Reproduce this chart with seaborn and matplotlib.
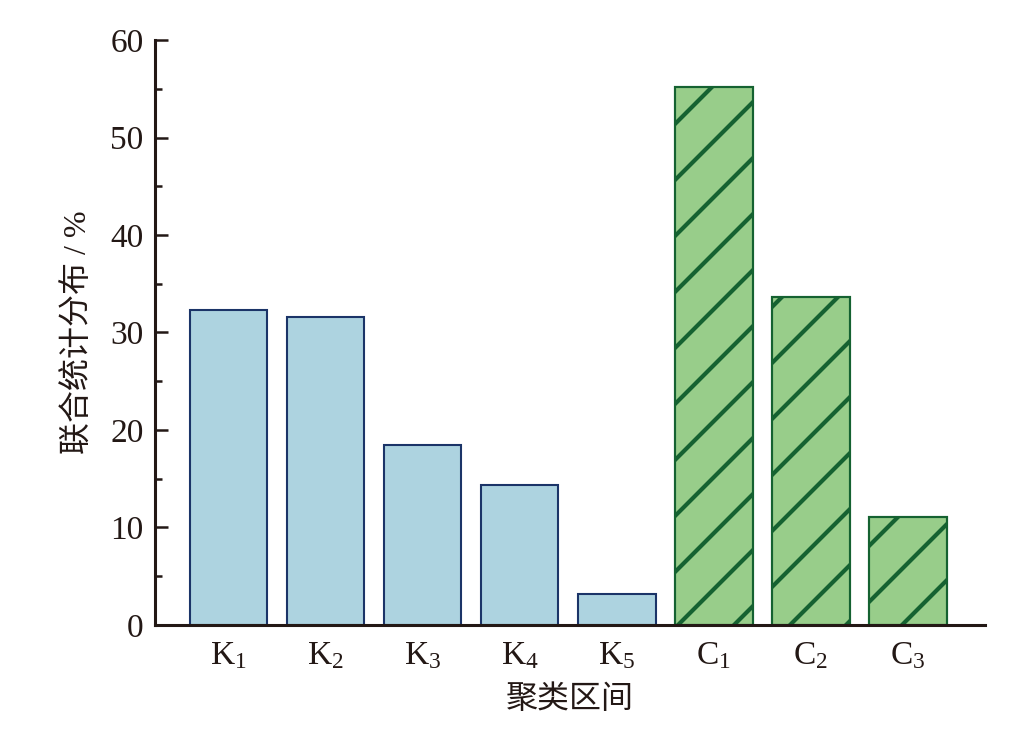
import numpy as np
import seaborn as sns
import matplotlib.pyplot as plt
import pandas as pd
from matplotlib.lines import Line2D
from matplotlib.patches import Rectangle
from matplotlib.transforms import IdentityTransform

# data
labels = ['K$_1$', 'K$_2$', 'K$_3$', 'K$_4$', 'K$_5$', 'C$_1$', 'C$_2$', 'C$_3$']
values = [32.3, 31.6, 18.5, 14.4, 3.2, 55.2, 33.6, 11.1]
groups = ['K', 'K', 'K', 'K', 'K', 'C', 'C', 'C']

fill = {'K': '#ADD3E0', 'C': '#98CD8A'}
edge = {'K': '#1B3468', 'C': '#156231'}
ink = '#231815'

sns.set_style('ticks')
plt.rcParams['font.family'] = ['Liberation Serif', 'Noto Sans CJK SC']
plt.rcParams['mathtext.fontset'] = 'custom'
plt.rcParams['mathtext.rm'] = 'Liberation Serif'
plt.rcParams['mathtext.it'] = 'Liberation Serif'

df = pd.DataFrame({'label': labels, 'value': values, 'group': groups})

fig = plt.figure(figsize=(10.31, 7.43), dpi=100)
ax = fig.add_axes([0.150, 0.159, 0.805, 0.787])
sns.barplot(data=df, x='label', y='value', hue='group', palette=fill,
            dodge=False, legend=False, saturation=1, width=0.8, ax=ax)

bars = [p for p in ax.patches if p.get_height() > 0]
bars.sort(key=lambda p: p.get_x())
for p, g in zip(bars, groups):
    p.set_edgecolor(edge[g])
    p.set_linewidth(1.5)

ax.set_xlim(-0.76, 7.79)
ax.set_ylim(0, 60)
ax.set_yticks(np.arange(0, 61, 10))
ax.set_yticks(np.arange(5, 60, 10), minor=True)
sns.despine(ax=ax)
for s in ['left', 'bottom']:
    ax.spines[s].set_linewidth(2.2)
    ax.spines[s].set_color(ink)
    ax.spines[s].set_zorder(5)
ax.tick_params(axis='both', which='major', direction='in', length=9, width=1.8,
               color=ink, labelsize=24, labelcolor=ink)
ax.tick_params(axis='y', which='minor', direction='in', length=5, width=1.8,
               color=ink)
ax.tick_params(axis='y', pad=8)
ax.tick_params(axis='x', pad=11)
ax.set_xlabel('聚类区间', fontsize=23, color=ink, labelpad=10)
ax.set_ylabel('联合统计分布 / %', fontsize=23, color=ink, labelpad=12)

# sparse diagonal hatch drawn in pixel space, clipped to each green bar
fig.canvas.draw()
step = 56
for p, g in zip(bars, groups):
    if g != 'C':
        continue
    bb = p.get_window_extent()
    c0 = bb.x0 - bb.y1
    c1 = bb.x1 - bb.y0
    for c in np.arange(np.floor(c0 / step) * step, c1 + step, step):
        ln = Line2D([bb.y0 + c - 5, bb.y1 + c + 5], [bb.y0 - 5, bb.y1 + 5],
                    transform=IdentityTransform(), color=edge[g], lw=3.0,
                    solid_capstyle='butt', zorder=1.5)
        ax.add_artist(ln)
        ln.set_clip_path(p)
    # redraw the outline over the hatch lines
    ax.add_patch(Rectangle((p.get_x(), 0), p.get_width(), p.get_height(),
                           fill=False, edgecolor=edge[g], lw=1.5, zorder=2))

fig.savefig('out.png', dpi=100)
